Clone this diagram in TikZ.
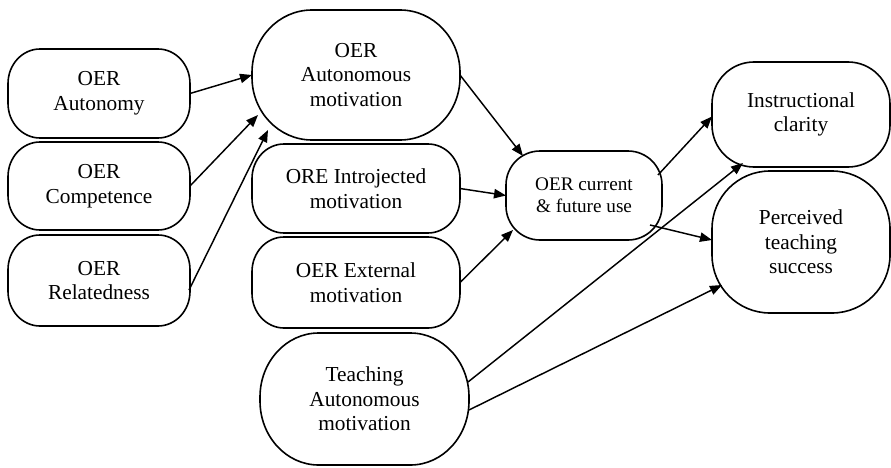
\documentclass[tikz,border=0pt]{standalone}
\usepackage{fontspec}
\setmainfont{Liberation Serif}
\usetikzlibrary{arrows.meta,calc}
\newcommand\ovalframe[3]{%
  \draw[frame] let \p1=(#1.north west), \p2=(#1.south east) in
    (\x1+#2,\y1) -- (\x2-#2,\y1)
    arc[start angle=90,end angle=0,x radius=#2,y radius=#3] -- (\x2,\y2+#3)
    arc[start angle=0,end angle=-90,x radius=#2,y radius=#3] -- (\x1+#2,\y2)
    arc[start angle=270,end angle=180,x radius=#2,y radius=#3] -- (\x1,\y1-#3)
    arc[start angle=180,end angle=90,x radius=#2,y radius=#3] -- cycle;}
\begin{document}
\begin{tikzpicture}[x=0.75pt,y=-0.75pt,
  box/.style={rectangle,align=center,inner sep=0pt,outer sep=0pt,
    font=\fontsize{16}{18.5}\selectfont},
  frame/.style={draw=black,line width=1.2pt},
  arr/.style={draw=black,line width=1.1pt,-{Triangle[length=9pt,width=7pt]}}]
\useasboundingbox (0,0) rectangle (891,467);
\node[box,minimum width=136.5pt,minimum height=66.75pt] (aut) at (99,93.5) {OER\\Autonomy};
\node[box,minimum width=136.5pt,minimum height=66pt] (comp) at (99,186) {OER\\Competence};
\node[box,minimum width=136.5pt,minimum height=68.25pt] (rel) at (99,280.5) {OER\\Relatedness};
\node[box,minimum width=156pt,minimum height=97.5pt] (autmot) at (356,75) {OER\\Autonomous\\motivation};
\node[box,minimum width=156pt,minimum height=66.75pt] (intro) at (356,188.5) {ORE Introjected\\motivation};
\node[box,minimum width=156pt,minimum height=68.25pt] (ext) at (356,282.5) {OER External\\motivation};
\node[box,minimum width=156.75pt,minimum height=99pt] (teach) at (364.5,399) {Teaching\\Autonomous\\motivation};
\node[box,minimum width=117pt,minimum height=66.75pt,font=\fontsize{14.4}{16.3}\selectfont] (use) at (584,195.5) {OER current\\\& future use};
\node[box,minimum width=133.5pt,minimum height=78.75pt] (instr) at (801,114.5) {Instructional\\clarity};
\node[box,minimum width=133.5pt,minimum height=106.5pt] (perc) at (801,242) {Perceived\\teaching\\success};
\ovalframe{aut}{24pt}{26pt}
\ovalframe{comp}{24pt}{26pt}
\ovalframe{rel}{24pt}{26pt}
\ovalframe{autmot}{45pt}{47pt}
\ovalframe{intro}{24pt}{26pt}
\ovalframe{ext}{24pt}{26pt}
\ovalframe{teach}{44pt}{48pt}
\ovalframe{use}{25.5pt}{25.5pt}
\ovalframe{instr}{31.5pt}{31.5pt}
\ovalframe{perc}{43.5pt}{43.5pt}
\draw[arr] (aut.east) -- (autmot.west);
\draw[arr] (comp.east) -- ($(autmot)+(-98,40)$);
\draw[arr] ($(rel)+(90,9.5)$) -- ($(autmot)+(-88,55)$);
\draw[arr] (autmot.east) -- ($(use)+(-61,-39.5)$);
\draw[arr] (intro.east) -- (use.west);
\draw[arr] (ext.east) -- ($(use)+(-71,34.5)$);
\draw[arr] ($(use)+(74,-20.5)$) -- ($(instr)+(-89,2)$);
\draw[arr] ($(use)+(66,29.5)$) -- ($(perc)+(-89,-2)$);
\draw[arr] ($(teach)+(103.5,-17)$) -- ($(instr)+(-58,48.5)$);
\draw[arr] ($(teach)+(104.5,11)$) -- ($(perc)+(-79,43)$);
\end{tikzpicture}
\end{document}
